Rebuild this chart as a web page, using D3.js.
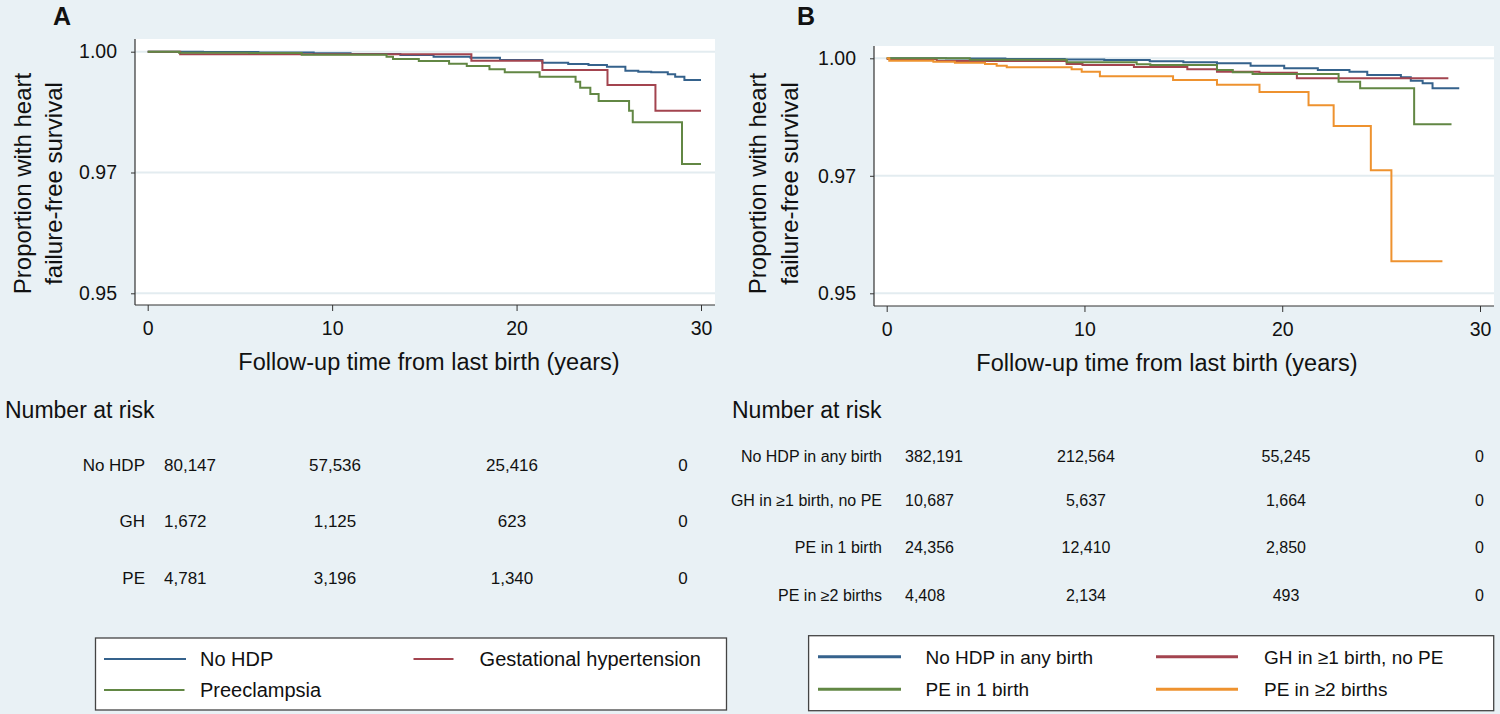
<!DOCTYPE html>
<html>
<head>
<meta charset="utf-8">
<script src="https://cdn.jsdelivr.net/npm/d3@7/dist/d3.min.js"></script>
<style>
  html, body { margin: 0; padding: 0; background: #e9f1f5; }
  svg { display: block; font-family: "Liberation Sans", Arial, Helvetica, sans-serif; }
</style>
</head>
<body>
<svg id="chart" width="1500" height="714"></svg>
<script>
// ---------------- DATA ----------------
const xTicks = [0, 10, 20, 30];
const yTicks = [0.95, 0.975, 1.0];
const yTickLabels = ["0.95", "0.97", "1.00"];
const xTitle = "Follow-up time from last birth (years)";
const yTitle = ["Proportion with heart", "failure-free survival"];

// Panel A: [time (years), survival] step points
const aNoHDP = [[0,1.0],[3,0.99995],[6,0.99982],[9,0.99968],[11,0.99952],[13.7,0.99932],[15.5,0.99897],[17.5,0.99876],[19.1,0.99828],[21.4,0.99773],[22.8,0.99745],[23.9,0.99725],[24.9,0.9969],[25.9,0.99607],[26.6,0.99586],[27.3,0.99573],[28.2,0.99531],[28.6,0.99483],[29.1,0.99414]];
const aNoHDPEnd = 30;
const aGH = [[0,1.0],[1.76,0.99946],[17.55,0.99814],[21.4,0.99621],[24.93,0.99311],[27.53,0.98779]];
const aGHEnd = 30;
const aPE = [[0,1.0],[1.7,0.9998],[5.5,0.99975],[8.35,0.99938],[12.95,0.99897],[13.3,0.9985],[14.7,0.99808],[16.34,0.99752],[17.3,0.99704],[18.53,0.99635],[19.36,0.99573],[21.25,0.99483],[23.2,0.99379],[23.45,0.99255],[24.0,0.99125],[24.45,0.9898],[26.1,0.98779],[26.3,0.98539],[28.97,0.97676]];
const aPEEnd = 30;

// Panel B
const bNoHDP = [[0,1.0],[3,0.99995],[6,0.99985],[9,0.99975],[11,0.99964],[13.3,0.99935],[15,0.99915],[16.7,0.99894],[18.4,0.9984],[20.1,0.99787],[21.8,0.9975],[23.4,0.99715],[24.3,0.99645],[26,0.99596],[26.5,0.99523],[27.1,0.99468],[27.6,0.99362]];
const bNoHDPEnd = 28.95;
const bGH = [[0,0.99985],[2.53,0.99943],[9.1,0.99879],[9.9,0.99857],[12.5,0.99815],[15.2,0.99766],[16.7,0.99716],[18.85,0.9969],[20.74,0.99574]];
const bGHEnd = 28.4;
const bPE1 = [[0,1.0],[4.2,0.9997],[9.1,0.99915],[12.64,0.99872],[13.33,0.99857],[16.7,0.99751],[17.5,0.99702],[18.5,0.99666],[22.85,0.99502],[23.94,0.99362],[26.67,0.98596]];
const bPE1End = 28.56;
const bPE2 = [[0,1.0],[0.13,0.99949],[2.36,0.99928],[3.45,0.99906],[4.97,0.99879],[5.56,0.99843],[6.07,0.99809],[9.35,0.99766],[9.86,0.99715],[10.78,0.99617],[14.48,0.99538],[16.7,0.99438],[18.85,0.99283],[21.33,0.99],[22.6,0.9856],[24.48,0.97617],[25.52,0.95681]];
const bPE2End = 28.1;

// Number at risk
const riskAGroups = ["No HDP", "GH", "PE"];
const riskANoHDP = [80147, 57536, 25416, 0];
const riskAGH = [1672, 1125, 623, 0];
const riskAPE = [4781, 3196, 1340, 0];

const riskBGroups = ["No HDP in any birth", "GH in \u22651 birth, no PE", "PE in 1 birth", "PE in \u22652 births"];
const riskBNoHDP = [382191, 212564, 55245, 0];
const riskBGH = [10687, 5637, 1664, 0];
const riskBPE1 = [24356, 12410, 2850, 0];
const riskBPE2 = [4408, 2134, 493, 0];

const legendA = ["No HDP", "Gestational hypertension", "Preeclampsia"];
const legendB = ["No HDP in any birth", "GH in \u22651 birth, no PE", "PE in 1 birth", "PE in \u22652 births"];

// ---------------- STYLE ----------------
const C = { blue: "#35628c", red: "#a3444f", green: "#628744", orange: "#ee922f" };
const gridColor = "#e3ecf0";
const fmt = d3.format(",");

const svg = d3.select("#chart");

function panel(cfg) {
  const g = svg.append("g");
  const x = d3.scaleLinear().domain([0, 30]).range(cfg.xr);
  const y = d3.scaleLinear().domain([0.95, 1.0]).range(cfg.yr);
  const p = cfg.plot;

  // panel letter
  g.append("text").attr("x", cfg.letter[0]).attr("y", cfg.letter[1])
    .attr("font-size", 25).attr("font-weight", "bold").attr("fill", "#111").text(cfg.name);

  // plot region
  g.append("rect").attr("x", p.x0).attr("y", p.y0).attr("width", p.x1 - p.x0).attr("height", p.y1 - p.y0)
    .attr("fill", "#fff");

  // gridlines
  g.selectAll(".grid").data(yTicks).enter().append("line")
    .attr("x1", p.x0).attr("x2", p.x1)
    .attr("y1", d => y(d)).attr("y2", d => y(d))
    .attr("stroke", gridColor).attr("stroke-width", 2);

  // curves
  const line = d3.line().x(d => x(d[0])).y(d => y(d[1])).curve(d3.curveStepAfter);
  cfg.series.forEach(s => {
    const pts = s.data.concat([[s.end, s.data[s.data.length - 1][1]]]);
    g.append("path").attr("d", line(pts)).attr("fill", "none")
      .attr("stroke", s.color).attr("stroke-width", 2).attr("stroke-linejoin", "miter");
  });

  // y axis
  const yAxis = d3.axisLeft(y).tickValues(yTicks)
    .tickFormat((d, i) => yTickLabels[i]).tickSize(4).tickPadding(14).tickSizeOuter(0);
  const ya = g.append("g").attr("transform", `translate(${p.x0},0)`).call(yAxis);
  ya.select(".domain").remove();
  ya.selectAll("line").attr("stroke", "#333");
  ya.selectAll("text").attr("font-size", 19.5).attr("fill", "#111")
    .attr("font-family", "Liberation Sans, Arial, sans-serif");

  // x axis
  const xAxis = d3.axisBottom(x).tickValues(xTicks).tickSize(6).tickPadding(10).tickSizeOuter(0);
  const xa = g.append("g").attr("transform", `translate(0,${p.y1})`).call(xAxis);
  xa.select(".domain").remove();
  xa.selectAll("line").attr("stroke", "#333");
  xa.selectAll("text").attr("font-size", 19.5).attr("fill", "#111")
    .attr("font-family", "Liberation Sans, Arial, sans-serif");

  // axis lines
  g.append("line").attr("x1", p.x0).attr("x2", p.x0).attr("y1", p.y0).attr("y2", p.y1)
    .attr("stroke", "#333").attr("stroke-width", 1.2);
  g.append("line").attr("x1", p.x0).attr("x2", p.x1).attr("y1", p.y1).attr("y2", p.y1)
    .attr("stroke", "#333").attr("stroke-width", 1.2);

  // titles
  g.append("text").attr("x", cfg.xTitle[0]).attr("y", cfg.xTitle[1]).attr("text-anchor", "middle")
    .attr("font-size", 23.5).attr("fill", "#111").text(xTitle);
  yTitle.forEach((t, i) => {
    g.append("text").attr("transform", `translate(${cfg.yTitleX[i]},${cfg.yTitleCY}) rotate(-90)`)
      .attr("text-anchor", "middle").attr("font-size", 24).attr("fill", "#111").text(t);
  });

  // number at risk
  g.append("text").attr("x", cfg.riskTitle[0]).attr("y", cfg.riskTitle[1])
    .attr("font-size", 23).attr("fill", "#111").text("Number at risk");
  cfg.risk.forEach((r, i) => {
    const yy = cfg.riskRows[i];
    g.append("text").attr("x", cfg.riskLabelX).attr("y", yy).attr("text-anchor", "end")
      .attr("font-size", cfg.riskFont).attr("fill", "#111").text(r.label);
    r.values.forEach((v, j) => {
      g.append("text").attr("x", cfg.riskCols[j]).attr("y", yy)
        .attr("text-anchor", j === 0 ? "start" : "middle")
        .attr("font-size", cfg.riskFont).attr("fill", "#111").text(fmt(v));
    });
  });

  // legend
  const L = cfg.legend;
  g.append("rect").attr("x", L.box[0]).attr("y", L.box[1]).attr("width", L.box[2] - L.box[0])
    .attr("height", L.box[3] - L.box[1]).attr("fill", "#fff").attr("stroke", "#444").attr("stroke-width", 1.3);
  L.items.forEach(it => {
    g.append("line").attr("x1", it.sx[0]).attr("x2", it.sx[1]).attr("y1", it.y).attr("y2", it.y)
      .attr("stroke", it.color).attr("stroke-width", L.sw);
    g.append("text").attr("x", it.tx).attr("y", it.y).attr("dy", "0.36em")
      .attr("font-size", L.font).attr("fill", "#111").text(it.label);
  });
}

panel({
  name: "A", letter: [53, 25],
  plot: { x0: 135, x1: 715, y0: 39, y1: 305 },
  xr: [147.7, 701], yr: [293.3, 51.7],
  series: [
    { data: aNoHDP, end: aNoHDPEnd, color: C.blue },
    { data: aGH, end: aGHEnd, color: C.red },
    { data: aPE, end: aPEEnd, color: C.green }
  ],
  xTitle: [429, 370], yTitleX: [31, 61.5], yTitleCY: 183.5,
  riskTitle: [5, 418], riskLabelX: 145, riskCols: [164, 335, 512, 683], riskRows: [470.5, 527, 583.5], riskFont: 17,
  risk: [
    { label: riskAGroups[0], values: riskANoHDP },
    { label: riskAGroups[1], values: riskAGH },
    { label: riskAGroups[2], values: riskAPE }
  ],
  legend: {
    box: [95.5, 638, 726.5, 710], font: 20, sw: 2,
    items: [
      { label: legendA[0], color: C.blue, sx: [104, 186], y: 659, tx: 200 },
      { label: legendA[1], color: C.red, sx: [413.5, 453.5], y: 659, tx: 479.6 },
      { label: legendA[2], color: C.green, sx: [104, 184.5], y: 690, tx: 200 }
    ]
  }
});

panel({
  name: "B", letter: [797, 25],
  plot: { x0: 874, x1: 1494, y0: 46, y1: 306 },
  xr: [886.7, 1480], yr: [293.3, 58.3],
  series: [
    { data: bNoHDP, end: bNoHDPEnd, color: C.blue },
    { data: bGH, end: bGHEnd, color: C.red },
    { data: bPE1, end: bPE1End, color: C.green },
    { data: bPE2, end: bPE2End, color: C.orange }
  ],
  xTitle: [1167, 371], yTitleX: [766, 798], yTitleCY: 183.5,
  riskTitle: [732, 418], riskLabelX: 882, riskCols: [905, 1086, 1286, 1479.5], riskRows: [461.7, 505.7, 552.7, 600.7], riskFont: 16,
  risk: [
    { label: riskBGroups[0], values: riskBNoHDP },
    { label: riskBGroups[1], values: riskBGH },
    { label: riskBGroups[2], values: riskBPE1 },
    { label: riskBGroups[3], values: riskBPE2 }
  ],
  legend: {
    box: [808.6, 635.7, 1493.7, 710.7], font: 19, sw: 3,
    items: [
      { label: legendB[0], color: C.blue, sx: [818, 901], y: 656.7, tx: 925.5 },
      { label: legendB[1], color: C.red, sx: [1156, 1238], y: 656.7, tx: 1264 },
      { label: legendB[2], color: C.green, sx: [818, 901], y: 689.3, tx: 925.5 },
      { label: legendB[3], color: C.orange, sx: [1156, 1238], y: 689.3, tx: 1264 }
    ]
  }
});
</script>
</body>
</html>
